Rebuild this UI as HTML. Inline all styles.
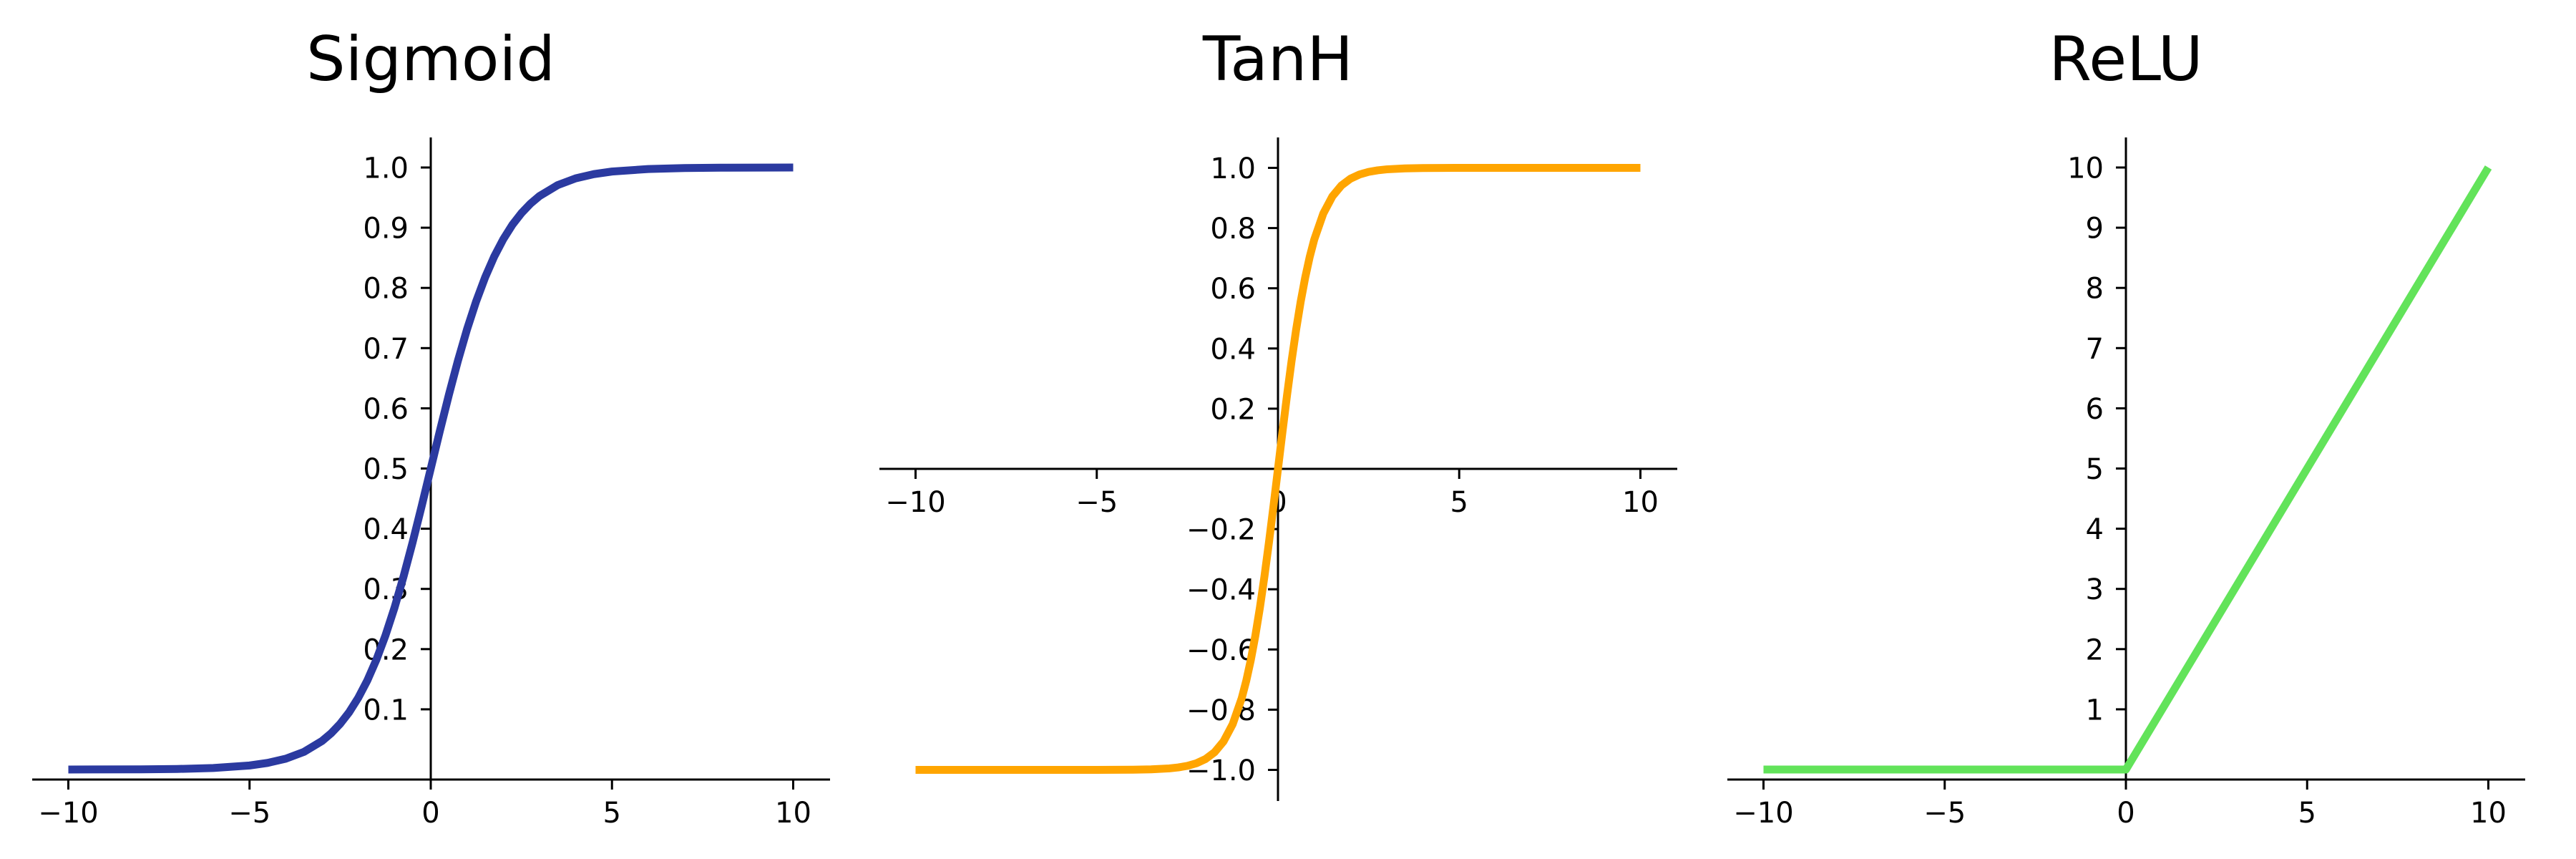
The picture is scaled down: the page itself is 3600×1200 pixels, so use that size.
<!DOCTYPE html>
<html><head><meta charset="utf-8"><style>
html,body{margin:0;padding:0;background:#fff;}
svg{display:block;}
text{font-family:"DejaVu Sans","Liberation Sans",sans-serif;fill:#000;}
</style></head>
<body>
<svg id="chart" width="3600" height="1200" viewBox="0 0 3600 1200" xmlns="http://www.w3.org/2000/svg"></svg>
<script>
const xTickValues = [-10, -5, 0, 5, 10];
const xTickLabels = ["−10", "−5", "0", "5", "10"];

const sigmoidX = [-10,-8,-7,-6,-5,-4.5,-4,-3.5,-3,-2.75,-2.5,-2.25,-2,-1.75,-1.5,-1.25,-1,-0.75,-0.5,-0.25,0,0.25,0.5,0.75,1,1.25,1.5,1.75,2,2.25,2.5,2.75,3,3.5,4,4.5,5,6,7,8,10];
const sigmoidY = [0.00005,0.0003,0.0009,0.0025,0.0067,0.0110,0.0180,0.0293,0.0474,0.0601,0.0759,0.0953,0.1192,0.1480,0.1824,0.2227,0.2689,0.3208,0.3775,0.4378,0.5,0.5622,0.6225,0.6792,0.7311,0.7773,0.8176,0.8520,0.8808,0.9047,0.9241,0.9399,0.9526,0.9707,0.9820,0.9890,0.9933,0.9975,0.9991,0.9997,0.99995];
const sigmoidYTicks = [0.1,0.2,0.3,0.4,0.5,0.6,0.7,0.8,0.9,1.0];
const sigmoidYLabels = ["0.1","0.2","0.3","0.4","0.5","0.6","0.7","0.8","0.9","1.0"];

const tanhX = [-10,-6,-5,-4.5,-4,-3.5,-3,-2.75,-2.5,-2.25,-2,-1.75,-1.5,-1.25,-1,-0.875,-0.75,-0.625,-0.5,-0.375,-0.25,-0.125,0,0.125,0.25,0.375,0.5,0.625,0.75,0.875,1,1.25,1.5,1.75,2,2.25,2.5,2.75,3,3.5,4,4.5,5,6,10];
const tanhY = [-1,-0.99999,-0.99991,-0.99975,-0.9993,-0.9982,-0.9951,-0.9919,-0.9866,-0.9780,-0.9640,-0.9414,-0.9051,-0.8483,-0.7616,-0.7039,-0.6351,-0.5546,-0.4621,-0.3584,-0.2449,-0.1244,0,0.1244,0.2449,0.3584,0.4621,0.5546,0.6351,0.7039,0.7616,0.8483,0.9051,0.9414,0.9640,0.9780,0.9866,0.9919,0.9951,0.9982,0.9993,0.99975,0.99991,0.99999,1];
const tanhYTicks = [-1.0,-0.8,-0.6,-0.4,-0.2,0.2,0.4,0.6,0.8,1.0];
const tanhYLabels = ["−1.0","−0.8","−0.6","−0.4","−0.2","0.2","0.4","0.6","0.8","1.0"];

const reluX = [-10, 0, 10];
const reluY = [0, 0, 10];
const reluYTicks = [1,2,3,4,5,6,7,8,9,10];
const reluYLabels = ["1","2","3","4","5","6","7","8","9","10"];

const NS = "http://www.w3.org/2000/svg";
const svg = document.getElementById("chart");
function mk(tag, attrs, parent){
  const e = document.createElementNS(NS, tag);
  for (const k in attrs) e.setAttribute(k, attrs[k]);
  (parent||svg).appendChild(e);
  return e;
}

function panel(o){
  const g = mk("g", {});
  
  
  const sx = v => o.x0 + v * 50.65;
  const sy = v => o.y0 - (v - o.yBase) * o.ppu;
  const t = mk("text", {x: o.x0, y: 112, "font-size": 86, "text-anchor": "middle"}, g);
  t.textContent = o.title;
  
  
  const xa = mk("line", {x1: o.axL, x2: o.axL + 1115, y1: o.xAxisY, y2: o.xAxisY, stroke: "#000", "stroke-width": 3}, g);
  
  
  xTickValues.forEach((v, i) => {
    const tk = mk("line", {x1: sx(v), x2: sx(v), y1: o.xAxisY, y2: o.xAxisY + 14, stroke: "#000", "stroke-width": 3}, g);
    
    
    const lb = mk("text", {x: sx(v), y: o.xAxisY + 60, "font-size": 40, "text-anchor": "middle"}, g);
    lb.textContent = xTickLabels[i];
    
    
  });
  const ya = mk("line", {x1: o.x0, x2: o.x0, y1: 192, y2: o.yAxisBottom, stroke: "#000", "stroke-width": 3}, g);
  
  
  o.yTicks.forEach((v, i) => {
    const y = sy(v);
    const tk = mk("line", {x1: o.x0 - 14, x2: o.x0, y1: y, y2: y, stroke: "#000", "stroke-width": 3}, g);
    
    
    const lb = mk("text", {x: o.x0 - 31, y: y + 14.5, "font-size": 40, "text-anchor": "end"}, g);
    lb.textContent = o.yLabels[i];
    
    
  });
  const d = o.xs.map((v, i) => (i ? "L" : "M") + sx(v).toFixed(2) + "," + sy(o.ys[i]).toFixed(2)).join(" ");
  const p = mk("path", {d: d, fill: "none", stroke: o.color, "stroke-width": 11, "stroke-linejoin": "round", "stroke-linecap": "butt"}, g);
  
  
}

panel({name: "sigmoid", title: "Sigmoid", x0: 602, axL: 45, xAxisY: 1089, y0: 1075, yBase: 0, ppu: 841, yAxisBottom: 1089,
  yTicks: sigmoidYTicks, yLabels: sigmoidYLabels, xs: sigmoidX, ys: sigmoidY, color: "#2b3aa0"});
panel({name: "tanh", title: "TanH", x0: 1786, axL: 1229, xAxisY: 655, y0: 655, yBase: 0, ppu: 420.5, yAxisBottom: 1119,
  yTicks: tanhYTicks, yLabels: tanhYLabels, xs: tanhX, ys: tanhY, color: "#ffa500"});
panel({name: "relu", title: "ReLU", x0: 2971, axL: 2414, xAxisY: 1089, y0: 1075, yBase: 0, ppu: 84.1, yAxisBottom: 1089,
  yTicks: reluYTicks, yLabels: reluYLabels, xs: reluX, ys: reluY, color: "#62e35a"});
</script>
</body></html>
